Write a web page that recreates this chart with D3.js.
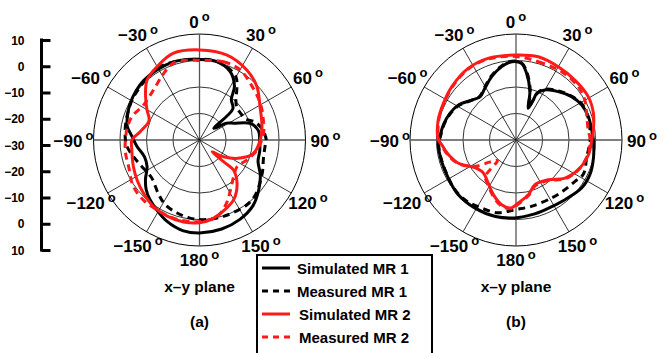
<!DOCTYPE html>
<html>
<head>
<meta charset="utf-8">
<script src="https://cdn.jsdelivr.net/npm/d3@7"></script>
<style>
  body { margin: 0; background: #fff; }
  svg { display: block; font-family: 'Liberation Sans', Arial, sans-serif; font-weight: bold; }
</style>
</head>
<body>
<div id="chart"></div>
<script>
// pattern values in dB, [angle in degrees, level]
const leftSimMR1 = [[0,0.4],[12,0.3],[24,-1.7],[33,-5.8],[38,-10.5],[47,-12.8],[51,-23],[58,-18],[64,-15.5],[72,-9.8],[81,-7.5],[90,-7.3],[100,-6.9],[110,-6.5],[120,-3.5],[130,-0.8],[141,2],[153,3.6],[166,4.6],[180,5.1],[-170,4.8],[-158,3],[-148,0.8],[-140,-0.8],[-133,-2.5],[-126,-4.8],[-117,-7.8],[-107,-8.3],[-96,-6.3],[-87,-4.5],[-79,-2.2],[-70,-1.2],[-62,-0.4],[-52,0.3],[-43,0.8],[-31,0.9],[-18,1.1],[-9,0.8]]
const leftMeasMR1 = [[0,0.5],[12,0.4],[22,-0.8],[30,-2.5],[36,-6],[42,-9.5],[50,-11.5],[56,-11.5],[65,-11],[72,-8],[80,-6],[90,-4.8],[94,-5.1],[106,-4.9],[116,-3.5],[124,-2.3],[134,-0.5],[144,0.3],[162,0.2],[177,0.1],[-173,-0.3],[-163,-1.2],[-152,-2.4],[-142,-4.6],[-128,-7],[-113,-5.8],[-104,-4.3],[-95,-2.5],[-85,-1.8],[-72,-1.2],[-59,-0.4],[-48,0.1],[-40,0.6],[-28,1.4],[-14,0.8]]
const leftSimMR2 = [[0,4],[18,3.7],[34,1.9],[47,-0.4],[61,-3.9],[78,-5.9],[90,-7.1],[104,-9],[114,-13.2],[125,-19],[133,-23.5],[132,-17.8],[131.5,-12.9],[139,-8.4],[150,-4.1],[160,-2],[170,0],[180,1.2],[-169,1.5],[-157,1.2],[-145,0.5],[-134,-0.8],[-123,-2],[-112,-3.1],[-98,-4.2],[-90,-4.5],[-82,-7.4],[-69,-9.6],[-60,-7.1],[-49,-3],[-41,0.1],[-30,2],[-17,4.2]]
const leftMeasMR2 = [[0,0],[17,0.9],[30,0.6],[42,-1.3],[59,-3.2],[70,-4.5],[84,-5.7],[100,-8],[113,-10.6],[125,-12.6],[137,-11.1],[148,-7.9],[157,-4],[167,-0.3],[175,0.6],[-176,0.9],[-162,1.1],[-149,0.9],[-137,1],[-125,0.5],[-111,-1.4],[-98,-1.7],[-82,-2.3],[-71,-3],[-58,-5.1],[-43,-4.4],[-28,-1.4],[-19,0.6],[-8,0.4]]

const rightSimMR1 = [[-3,-0.4],[4,-1],[9,-4.5],[16,-11],[21,-17.2],[23.4,-13.5],[24,-10.7],[30,-8.2],[41,-5.8],[52,-3.4],[62,-1.9],[72,-1.3],[82,-1.2],[90,-0.8],[103,0],[115,0.8],[126,0.7],[141,-0.9],[157,-1.5],[168,-1.2],[-179,-0.6],[-165,-0.1],[-149,0],[-133,0],[-119,-0.7],[-106,-0.8],[-93,-0.6],[-87,-1.3],[-78,-2],[-68,-3.1],[-59,-4.5],[-48,-7.5],[-40,-8.8],[-31,-7.2],[-21,-4.4],[-11,-1.8]]
const rightMeasMR1 = [[-3,-0.2],[4,-0.8],[9,-4],[16,-10.5],[21,-16.5],[23.5,-13],[25,-10.2],[30,-7.8],[41,-5.5],[52,-3.2],[62,-1.6],[72,-1.5],[82,-1.8],[90,-2],[104,-2.5],[117,-1.5],[125,-2.8],[137,-3.8],[148,-4.3],[167,-4.3],[-179,-3.7],[-166,-1.7],[-153,-1.2],[-140,-0.3],[-128,-0.3],[-116,-0.9],[-104,-0.9],[-93,-0.8],[-86,-1.6],[-77,-2.3],[-68,-3.3],[-59,-4.8],[-49,-7.4],[-40,-8.6],[-31,-6.9],[-21,-4.1],[-11,-1.5]]
const rightSimMR2 = [[0,2.1],[15,2.5],[30,1.9],[44.5,1.7],[59,1.8],[71,0.9],[83,-0.6],[90,-1.4],[101.5,-2.1],[115.5,-4],[128,-6.6],[141,-10.7],[157,-11.7],[167,-8.9],[178,-6.2],[-176,-4.3],[-167.5,-5],[-157.5,-7.7],[-147,-10.7],[-135,-12.5],[-124,-11.3],[-112,-6.6],[-102,-3.9],[-93.6,-1.9],[-90,-0.7],[-76,0.3],[-63,0.7],[-50,1.5],[-34,2.5],[-19,2.6]]
const rightMeasMR2 = [[0,1.5],[16,0.7],[34,1],[49.5,0.9],[60,0],[69,-1.5],[82,-2.5],[90,-2],[101,-2.3],[115,-3.8],[128,-6.3],[141,-10.3],[157,-11.3],[167,-8.6],[178,-5.8],[-176,-4],[-167,-4.6],[-157,-7.4],[-147,-10.3],[-140,-12],[-138,-19.5],[-130,-17],[-122,-11],[-112,-6.4],[-102,-3.6],[-93,-1.6],[-90,-0.9],[-76,0.1],[-63,0.5],[-50,1.3],[-34,2.3],[-19,2.3]]

const angleTicks = [0, 30, 60, 90, 120, 150, 180, -150, -120, -90, -60, -30]
const ringLevels = [-20, -10, 0, 10]
const scaleLabels = ['10', '0', '\u221210', '\u221220', '\u221230', '\u221220', '\u221210', '0', '10']
const seriesNames = ['Simulated MR 1', 'Measured MR 1', 'Simulated MR 2', 'Measured MR 2']
const seriesColors = ['#000', '#000', '#ff1a1a', '#ff1a1a']
const seriesDashed = [false, true, false, true]
const panelNames = ['(a)', '(b)']

const width = 664
const height = 353
const radius = 106

const svg = d3.select('#chart')
    .append('svg')
    .attr('width', width)
    .attr('height', height)

const rScale = d3.scaleLinear().domain([-30, 10]).range([0, radius])
const rad = (deg) => deg * Math.PI / 180
const fmtAngle = (a) => a < 0 ? '\u2212' + Math.abs(a) : String(a)

const panels = [
    { cx: 199.5, cy: 140, series: [leftSimMR1, leftMeasMR1, leftSimMR2, leftMeasMR2] },
    { cx: 516, cy: 140, series: [rightSimMR1, rightMeasMR1, rightSimMR2, rightMeasMR2] }
]

const line = d3.lineRadial()
    .angle((d) => rad(d[0]))
    .radius((d) => rScale(d[1]))
    .curve(d3.curveCatmullRomClosed.alpha(0.5))

panels.forEach((p, pi) => {
    const g = svg.append('g').attr('transform', `translate(${p.cx}, ${p.cy})`)

    g.selectAll('circle.ring')
        .data(ringLevels)
        .enter()
        .append('circle')
        .attr('class', 'ring')
        .attr('r', (d) => rScale(d))
        .attr('fill', 'none')
        .attr('stroke', '#000')
        .attr('stroke-width', (d) => d === 10 ? 1 : 0.8)

    g.selectAll('line.spoke')
        .data(angleTicks)
        .enter()
        .append('line')
        .attr('x1', 0)
        .attr('y1', 0)
        .attr('x2', (d) => radius * Math.sin(rad(d)))
        .attr('y2', (d) => -radius * Math.cos(rad(d)))
        .attr('stroke', (d) => d % 90 === 0 ? '#555' : '#000')
        .attr('stroke-width', (d) => d % 90 === 0 ? 1.3 : 0.8)

    p.series.forEach((s, i) => {
        g.append('path')
            .datum(s)
            .attr('d', line)
            .attr('fill', 'none')
            .attr('stroke', seriesColors[i])
            .attr('stroke-width', 3)
            .attr('stroke-linejoin', 'round')
            .attr('stroke-dasharray', seriesDashed[i] ? '7,5' : null)
    })

    const labels = g.selectAll('text.ang')
        .data(angleTicks)
        .enter()
        .append('text')
        .attr('class', 'ang')
        .attr('x', (d) => (radius + 14 + 6 * Math.abs(Math.sin(rad(d)))) * Math.sin(rad(d)))
        .attr('y', (d) => -(radius + 13 + 6 * Math.abs(Math.sin(rad(d)))) * Math.cos(rad(d)) + 6.5)
        .attr('text-anchor', 'middle')
        .style('font-size', '17px')
    labels.append('tspan').text((d) => fmtAngle(d))
    labels.append('tspan')
        .attr('dx', 3)
        .attr('dy', -7)
        .style('font-size', '13px')
        .text('o')

    svg.append('text')
        .attr('x', p.cx)
        .attr('y', 292)
        .attr('text-anchor', 'middle')
        .style('font-size', '15.5px')
        .text('x\u2013y plane')
    svg.append('text')
        .attr('x', p.cx)
        .attr('y', 327)
        .attr('text-anchor', 'middle')
        .style('font-size', '15.5px')
        .text(panelNames[pi])
})

// dB scale on the left
const yScale = d3.scalePoint().domain(d3.range(scaleLabels.length)).range([40, 250])
const yAxis = d3.axisLeft(yScale).tickFormat((i) => scaleLabels[i]).tickSize(-9).tickPadding(17)
const axisG = svg.append('g')
    .attr('transform', 'translate(41.5, 0)')
    .call(yAxis)
axisG.select('.domain').remove()
axisG.append('line')
    .attr('y1', 38.5).attr('y2', 251.5)
    .attr('stroke', '#000').attr('stroke-width', 3)
axisG.selectAll('.tick line').attr('stroke-width', 3)
axisG.selectAll('.tick text')
    .style('font-family', "'Liberation Sans', Arial, sans-serif")
    .style('font-size', '12px')
    .style('font-weight', 700)
    .attr('dy', '0.35em')

// legend
const legend = svg.append('g').attr('transform', 'translate(257, 255)')
legend.append('rect')
    .attr('width', 175)
    .attr('height', 110)
    .attr('fill', '#fff')
    .attr('stroke', '#000')
    .attr('stroke-width', 2)
const rowY = d3.scalePoint().domain(seriesNames).range([13, 82])
const rows = legend.selectAll('g.row')
    .data(seriesNames)
    .enter()
    .append('g')
    .attr('transform', (d) => `translate(0, ${rowY(d)})`)
rows.append('line')
    .attr('x1', 5).attr('x2', 33)
    .attr('stroke', (d, i) => seriesColors[i])
    .attr('stroke-width', 3)
    .attr('stroke-dasharray', (d, i) => seriesDashed[i] ? '6,5' : null)
rows.append('text')
    .attr('x', (d, i) => i < 2 ? 40 : 42)
    .attr('y', 5.5)
    .style('font-size', '15px')
    .text((d) => d)
</script>
</body>
</html>
